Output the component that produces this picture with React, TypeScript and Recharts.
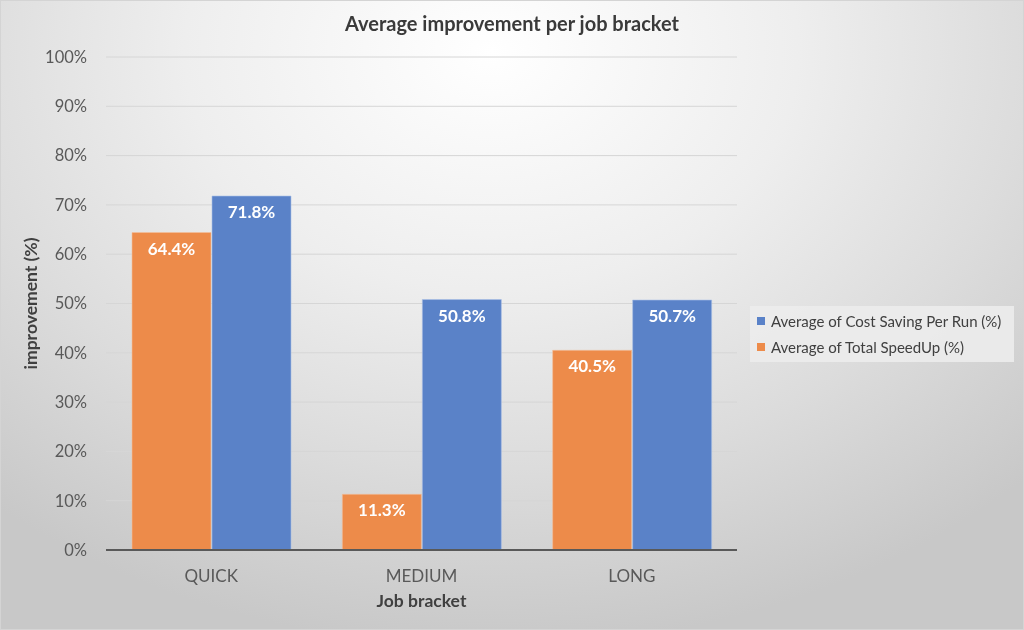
import React from "react";
import {
  BarChart,
  Bar,
  XAxis,
  YAxis,
  CartesianGrid,
  LabelList,
  Label,
} from "recharts";

const brackets = ["QUICK", "MEDIUM", "LONG"];
const totalSpeedUp = [64.4, 11.3, 40.5];
const costSaving = [71.8, 50.8, 50.7];
const yTicks = [0, 10, 20, 30, 40, 50, 60, 70, 80, 90, 100];

const speedUpName = "Average of Total SpeedUp (%)";
const costName = "Average of Cost Saving Per Run (%)";

const ORANGE = "#ED8B4A";
const BLUE = "#5A82C8";
const FONT = "Lato, 'Open Sans', sans-serif";

const chartData = brackets.map((name, i) => ({
  name,
  speedUp: totalSpeedUp[i],
  cost: costSaving[i],
}));

const legendItems = [
  { label: costName, color: BLUE },
  { label: speedUpName, color: ORANGE },
];

// legend drawn as a plain box so it doesn't eat into the plot area
const LegendBox = () => (
  <div
    style={{
      position: "absolute",
      left: 749,
      top: 305,
      width: 264,
      height: 56,
      boxSizing: "border-box",
      background: "rgba(236,236,236,0.9)",
      padding: "2px 7px",
      fontFamily: FONT,
      fontSize: 15,
      color: "#404040",
      whiteSpace: "nowrap",
    }}
  >
    {legendItems.map((it) => (
      <div
        key={it.label}
        style={{ display: "flex", alignItems: "center", height: 26 }}
      >
        <span
          style={{
            width: 8,
            height: 8,
            flex: "none",
            background: it.color,
            marginRight: 6,
            display: "inline-block",
          }}
        />
        {it.label}
      </div>
    ))}
  </div>
);

const fmt = (v: unknown) => `${Number(v).toFixed(1)}%`;

const labelStyle = {
  fill: "#ffffff",
  fontWeight: 700,
  fontSize: 17,
  fontFamily: FONT,
};

const App = () => {
  return (
    <div
      style={{
        position: "fixed",
        left: 0,
        top: 0,
        width: 1024,
        height: 630,
        boxSizing: "border-box",
        border: "1px solid #d4d4d4",
        background:
          "radial-gradient(ellipse 75% 95% at 48% 8%, #ffffff 0%, #eeeeee 40%, #dcdcdc 70%, #c8c8c8 100%)",
        fontFamily: FONT,
      }}
    >
      <div
        style={{
          position: "absolute",
          top: 10,
          left: 0,
          width: 1022,
          textAlign: "center",
          fontWeight: 700,
          fontSize: 20,
          color: "#3a3a3a",
        }}
      >
        Average improvement per job bracket
      </div>
      <BarChart
        width={1022}
        height={628}
        data={chartData}
        margin={{ top: 56, right: 286, left: 19, bottom: 18 }}
        barCategoryGap={26}
        barGap={1}
      >
        <CartesianGrid vertical={false} stroke="#d6d6d6" />
        <XAxis
          dataKey="name"
          axisLine={{ stroke: "#595959", strokeWidth: 2 }}
          tickLine={false}
          tickSize={0}
          tickMargin={20}
          height={61}
          tick={{ fill: "#595959", fontSize: 17, fontFamily: FONT }}
        >
          <Label
            value="Job bracket"
            position="insideBottom"
            offset={4}
            style={{
              fontWeight: 700,
              fontSize: 17.5,
              fill: "#404040",
              fontFamily: FONT,
            }}
          />
        </XAxis>
        <YAxis
          domain={[0, 100]}
          ticks={yTicks}
          tickFormatter={(v) => `${v}%`}
          axisLine={false}
          tickLine={false}
          tickSize={0}
          tickMargin={19}
          width={86}
          tick={{ fill: "#595959", fontSize: 16.5, fontFamily: FONT }}
        >
          <Label
            value="improvement (%)"
            angle={-90}
            position="insideLeft"
            offset={11}
            style={{
              textAnchor: "middle",
              fontWeight: 700,
              fontSize: 17.5,
              fill: "#404040",
              fontFamily: FONT,
            }}
          />
        </YAxis>
        <Bar
          dataKey="speedUp"
          name={speedUpName}
          fill={ORANGE}
          stroke="#f3c09c"
          strokeWidth={0.6}
          isAnimationActive={false}
        >
          <LabelList
            dataKey="speedUp"
            position="insideTop"
            offset={10}
            formatter={fmt}
            style={labelStyle}
          />
        </Bar>
        <Bar
          dataKey="cost"
          name={costName}
          fill={BLUE}
          stroke="#a9bfe6"
          strokeWidth={0.6}
          isAnimationActive={false}
        >
          <LabelList
            dataKey="cost"
            position="insideTop"
            offset={10}
            formatter={fmt}
            style={labelStyle}
          />
        </Bar>
      </BarChart>
      <LegendBox />
    </div>
  );
};

export default App;
